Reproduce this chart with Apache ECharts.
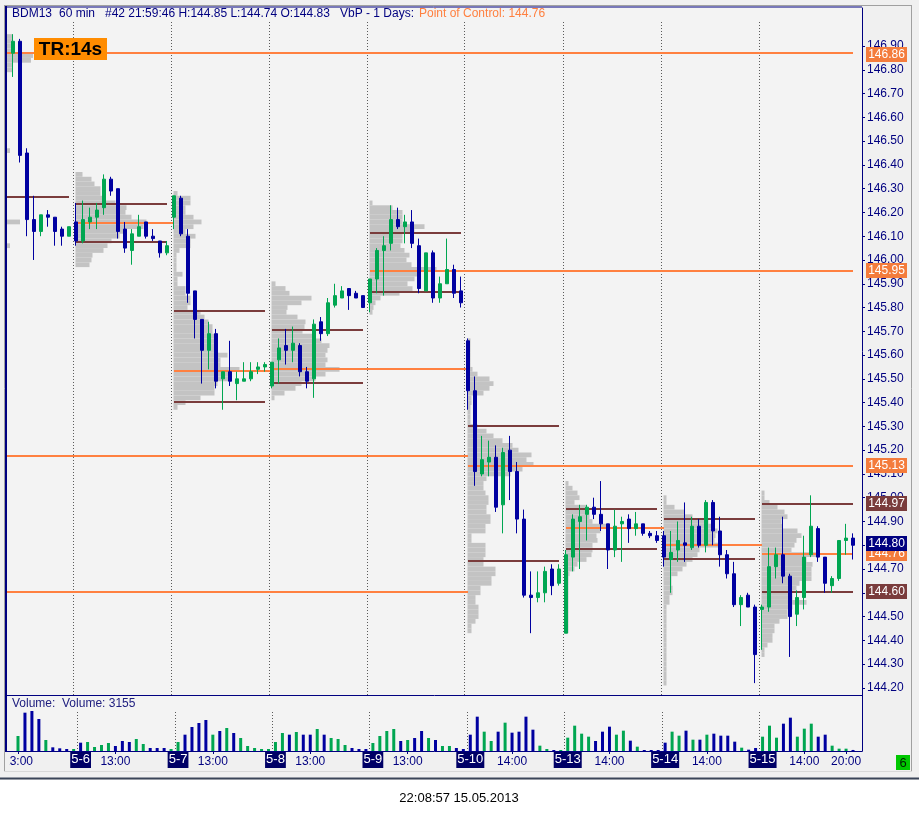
<!DOCTYPE html>
<html><head><meta charset="utf-8">
<script src="https://cdn.jsdelivr.net/npm/echarts@6/dist/echarts.min.js"></script>
<style>html,body{margin:0;padding:0;background:#fff;}#c{width:919px;height:814px;}</style>
</head><body><div id="c"></div>
<script>
// ---------- DATA ----------
const dayNames = ['5-3','5-6','5-7','5-8','5-9','5-10','5-13','5-14','5-15'];
const dayFirstHour = [13,8,8,8,8,8,8,8,8];
const dayLastHour = 21;
const dayTimeLabels = [['13:00'],['13:00'],['13:00'],['13:00'],['13:00'],['14:00'],['14:00'],['14:00'],['14:00','20:00']];

// candles per day: [open, high, low, close]
const d0503 = [[146.87,146.95,146.77,146.92],[146.92,146.93,146.41,146.44],[146.45,146.47,146.10,146.17],[146.17,146.27,146.00,146.12],[146.12,146.19,146.10,146.19],[146.19,146.21,146.14,146.18],[146.18,146.18,146.06,146.12],[146.13,146.14,146.06,146.10],[146.10,146.14,146.10,146.14]];
const d0506 = [[146.16,146.24,146.06,146.08],[146.08,146.25,146.07,146.17],[146.16,146.22,146.13,146.18],[146.18,146.24,146.13,146.21],[146.22,146.36,146.19,146.34],[146.34,146.35,146.27,146.29],[146.30,146.30,146.09,146.12],[146.13,146.16,146.03,146.05],[146.04,146.13,145.98,146.11],[146.10,146.19,146.10,146.14],[146.16,146.16,146.09,146.10],[146.10,146.13,146.08,146.09],[146.08,146.08,146.01,146.03],[146.03,146.08,146.02,146.06]];
const d0507 = [[146.18,146.27,146.13,146.27],[146.26,146.27,146.10,146.11],[146.10,146.13,145.82,145.86],[145.87,145.87,145.67,145.75],[145.75,145.75,145.48,145.62],[145.62,145.74,145.54,145.69],[145.69,145.71,145.46,145.49],[145.50,145.53,145.37,145.53],[145.53,145.66,145.47,145.49],[145.48,145.53,145.41,145.50],[145.49,145.57,145.49,145.50],[145.50,145.57,145.49,145.53],[145.54,145.57,145.52,145.55],[145.55,145.57,145.53,145.56]];
const d0508 = [[145.47,145.57,145.46,145.57],[145.58,145.67,145.48,145.63],[145.64,145.71,145.56,145.62],[145.62,145.72,145.57,145.65],[145.64,145.65,145.51,145.53],[145.53,145.55,145.46,145.49],[145.50,145.75,145.42,145.73],[145.74,145.76,145.66,145.69],[145.69,145.84,145.68,145.82],[145.81,145.90,145.80,145.85],[145.84,145.89,145.84,145.87],[145.88,145.88,145.79,145.85],[145.86,145.87,145.84,145.84],[145.85,145.85,145.80,145.80]];
const d0509 = [[145.82,145.92,145.78,145.92],[145.92,146.05,145.86,146.04],[146.04,146.10,145.85,146.06],[146.07,146.23,146.04,146.17],[146.17,146.22,146.13,146.14],[146.14,146.19,146.07,146.16],[146.16,146.21,146.05,146.07],[146.06,146.09,145.86,145.88],[145.87,146.03,145.87,146.03],[146.03,146.04,145.82,145.84],[145.84,145.93,145.82,145.90],[145.90,146.09,145.90,145.96],[145.96,145.98,145.84,145.86],[145.87,145.93,145.80,145.82]];
const d0510 = [[145.66,145.67,145.37,145.45],[145.45,145.51,145.05,145.11],[145.10,145.26,145.09,145.16],[145.15,145.24,145.09,145.17],[145.17,145.22,144.94,144.96],[144.97,145.21,144.85,145.19],[145.20,145.26,144.99,145.11],[145.11,145.15,144.85,144.91],[144.91,144.95,144.58,144.59],[144.59,144.69,144.43,144.58],[144.58,144.69,144.56,144.60],[144.60,144.71,144.56,144.69],[144.70,144.72,144.59,144.63],[144.64,144.72,144.63,144.70]];
const d0513 = [[144.43,144.78,144.43,144.76],[144.75,144.93,144.69,144.91],[144.90,144.97,144.70,144.92],[144.93,144.97,144.82,144.96],[144.96,145.00,144.91,144.93],[144.93,145.07,144.86,144.89],[144.89,144.89,144.70,144.78],[144.78,144.95,144.75,144.88],[144.89,144.92,144.73,144.90],[144.91,144.93,144.81,144.87],[144.87,144.94,144.84,144.89],[144.89,144.89,144.84,144.85],[144.85,144.86,144.83,144.84],[144.84,144.86,144.81,144.82]];
const d0514 = [[144.84,144.86,144.71,144.75],[144.74,144.86,144.60,144.77],[144.78,144.90,144.73,144.82],[144.81,144.98,144.73,144.80],[144.79,144.92,144.78,144.88],[144.88,144.91,144.79,144.80],[144.80,144.99,144.77,144.98],[144.98,144.99,144.80,144.86],[144.86,144.92,144.71,144.76],[144.76,144.78,144.66,144.68],[144.68,144.73,144.54,144.55],[144.55,144.59,144.46,144.58],[144.59,144.60,144.54,144.54],[144.54,144.55,144.22,144.34]];
const d0515 = [[144.53,144.55,144.36,144.54],[144.54,144.79,144.52,144.71],[144.71,144.79,144.66,144.76],[144.76,144.92,144.64,144.67],[144.67,144.68,144.33,144.50],[144.51,144.61,144.46,144.58],[144.58,144.84,144.53,144.75],[144.76,145.01,144.75,144.88],[144.87,144.88,144.73,144.75],[144.75,144.75,144.60,144.64],[144.63,144.67,144.60,144.66],[144.66,144.82,144.65,144.82],[144.82,144.89,144.76,144.83],[144.83,144.85,144.74,144.80]];

// volume per day
const v0503 = [45000,115000,120000,96000,33000,11000,8000,6000,6000];
const v0506 = [25000,27000,12000,18000,24000,15000,30000,27000,36000,21000,9000,9000,9000,6000];
const v0507 = [27000,49000,72000,84000,93000,49000,60000,69000,54000,39000,15000,9000,6000,6000];
const v0508 = [27000,54000,49000,57000,49000,49000,66000,49000,39000,36000,18000,9000,6000,6000];
const v0509 = [24000,45000,60000,66000,30000,33000,39000,60000,39000,33000,15000,15000,9000,6000];
const v0510 = [49000,103000,58000,30000,58000,85000,55000,58000,103000,64000,16000,6000,3000,3000];
const v0513 = [40000,76000,52000,43000,30000,58000,73000,49000,61000,31000,13000,3000,3000,3000];
const v0514 = [25000,58000,46000,61000,34000,34000,49000,52000,46000,46000,28000,10000,4000,9000];
const v0515 = [43000,76000,40000,82000,100000,43000,67000,82000,43000,49000,16000,7000,7000,3155];

// volume-at-price profiles: top price of each day, then one value per 0.02 step downwards
const profStep = 0.02;
const profTop = [146.94,146.36,146.28,145.90,146.24,145.66,145.06,145.00,145.02];
const p0503 = [5,5,6,6,26,24,5,5,0,0,0,0,0,0,0,0,0,0,0,0,0,0,0,0,3,0,0,0,0,0,0,0,0,0,0,0,0,0,0,13,0,0,0,0,3];
const p0506 = [7,16,19,25,25,27,40,51,50,56,71,68,50,44,36,32,28,17,16,14];
const p0507 = [4,17,17,12,12,20,28,20,12,22,17,17,6,3,3,3,3,9,4,4,12,12,17,17,14,27,31,35,39,39,41,41,44,44,54,47,47,66,57,57,44,41,41,27,12,4];
const p0508 = [4,14,18,40,30,16,15,26,34,33,31,44,50,58,56,54,56,54,68,54,44,30,24,13,3];
const p0509 = [3,23,33,33,33,55,45,33,33,31,35,40,37,42,67,50,45,38,43,30,11,6,4,3];
const p0510 = [3,3,3,3,3,3,5,10,22,26,22,16,4,4,3,3,3,3,10,19,26,35,45,51,64,59,66,55,43,19,16,16,18,21,21,19,19,23,23,18,18,4,4,18,18,18,16,16,28,28,24,24,13,13,8,8,11,11,11,8,4,4];
const p0513 = [3,7,12,14,9,21,24,24,27,41,35,31,32,27,27,26,21,12,9,4,3,3,3,3,3,3,3,3,3,3,3,3];
const p0514 = [3,3,11,21,29,45,51,54,52,51,58,36,34,29,23,19,14,8,8,9,9,6,6,3,3,3,3,3,3,3,3,3,3,3,3,3,3,3,3,3];
const p0515 = [3,3,8,16,23,26,20,21,36,40,35,33,30,55,45,51,50,50,50,38,35,31,31,45,31,26,26,18,13,13,11,11,6,3,3];

// level lines: [price, fromBar, toBar] (-1 = from left edge)
const pocLevels = [[146.869,-1,120],[145.175,-1,65],[144.602,-1,65],[146.157,9,23],[145.534,23,37],[145.54,37,65],[145.955,51,120],[145.133,65,120],[144.873,79,93],[144.80,93,107],[144.764,107,120]];
const vaLevels = [[146.267,-1,8],[146.237,9,22],[146.077,9,22],[145.787,23,36],[145.404,23,36],[145.705,37,50],[145.484,37,50],[146.115,51,64],[145.867,51,64],[145.302,65,78],[144.734,65,78],[144.953,79,92],[144.785,79,92],[144.911,93,106],[144.743,93,106],[144.973,107,120],[144.605,107,120]];

// right-hand price tags
const tagPrices = [146.86,145.95,145.13,144.97,144.76,144.60,144.80];
const tagKinds  = [0,0,0,1,0,1,2]; // 0 POC, 1 value area, 2 last price

const priceTicks = [144.2,144.3,144.4,144.5,144.6,144.7,144.8,144.9,145.0,145.1,145.2,145.3,145.4,145.5,145.6,145.7,145.8,145.9,146.0,146.1,146.2,146.3,146.4,146.5,146.6,146.7,146.8,146.9];

// ---------- BUILD ----------
const GREEN='#00a651', NAVY='#0000a0', ORANGE='#ff8040', BROWN='#7a3c3c', AXIS='#000080';
const FONT='"Liberation Sans", Arial, sans-serif';
const dayBars = [d0503,d0506,d0507,d0508,d0509,d0510,d0513,d0514,d0515];
const dayVols = [v0503,v0506,v0507,v0508,v0509,v0510,v0513,v0514,v0515];
const dayProfs = [p0503,p0506,p0507,p0508,p0509,p0510,p0513,p0514,p0515];

const cats=[], candles=[], vols=[], dayStart=[], labelMap={};
dayNames.forEach((d,di)=>{
  dayStart.push(cats.length);
  for(let h=dayFirstHour[di]; h<=dayLastHour; h++){
    const idx=cats.length;
    const hs=h+':00';
    cats.push(d+' '+hs);
    if(h===dayFirstHour[di] && di>0) labelMap[idx]='{d|'+d+'}';
    else if(dayTimeLabels[di].indexOf(hs)>=0) labelMap[idx]='{t|'+hs+'}';
  }
  dayBars[di].forEach((b,k)=>{
    candles.push([b[0],b[3],b[2],b[1]]);
    const up = b[3]>=b[0];
    vols.push({value: dayVols[di][k], itemStyle:{color: up?GREEN:NAVY}});
  });
});
const profRows=[];
dayProfs.forEach((arr,di)=>{
  arr.forEach((w,k)=>{ if(w>0) profRows.push([dayStart[di], +(profTop[di]-k*profStep).toFixed(2), w]); });
});
const levelRows=[];
pocLevels.forEach(l=>levelRows.push([l[1],l[0],l[2],0]));
vaLevels.forEach(l=>levelRows.push([l[1],l[0],l[2],1]));
const sepRows = dayStart.slice(1).map(i=>[i,145]);
const sepRowsVol = dayStart.slice(1).map(i=>[i,1000]);
const tagRows = tagPrices.map((p,i)=>[cats.length-1,p,tagKinds[i]]);

function sepRender(topOff){
  return function(params, api){
    const band = api.size([1,0])[0];
    const x = Math.round(api.coord([api.value(0), api.value(1)])[0]-band/2)+0.5;
    const cs = params.coordSys;
    return {type:'line', shape:{x1:x,y1:cs.y+topOff,x2:x,y2:cs.y+cs.height}, style:{stroke:'#5a5a5a',lineWidth:1,lineDash:[1,2]}};
  };
}

const chart = echarts.init(document.getElementById('c'), null, {renderer:'canvas', width:919, height:814});
const option = {
  animation:false,
  textStyle:{fontFamily:FONT},
  grid:[{left:9.5,width:847,top:8,height:687},{left:9.5,width:847,top:695,height:56}],
  xAxis:[
    {type:'category',gridIndex:0,data:cats,show:false,boundaryGap:true},
    {type:'category',gridIndex:1,data:cats,boundaryGap:true,
      axisLine:{show:false},
      axisTick:{show:true,alignWithLabel:true,length:3,interval:(i)=>labelMap[i]!==undefined,lineStyle:{color:AXIS}},
      axisLabel:{interval:(i)=>labelMap[i]!==undefined,margin:2,formatter:(v,i)=>labelMap[i]||'',
        rich:{d:{backgroundColor:'#000066',color:'#ffffff',fontSize:13,lineHeight:13,padding:[2,1,2,1],fontFamily:FONT},
              t:{color:AXIS,fontSize:12,lineHeight:17,fontFamily:FONT}}},
      splitLine:{show:false}}
  ],
  yAxis:[
    {type:'value',gridIndex:0,position:'right',offset:5.5,min:144.17,max:147.06,splitLine:{show:false},
      axisLine:{show:true,lineStyle:{color:AXIS}},
      axisTick:{show:true,length:3,customValues:priceTicks,lineStyle:{color:AXIS}},
      axisLabel:{customValues:priceTicks,formatter:v=>v.toFixed(2),color:AXIS,margin:5,fontSize:12,fontFamily:FONT}},
    {type:'value',gridIndex:1,position:'right',offset:5.5,min:0,max:168000,show:true,
      axisLine:{show:true,lineStyle:{color:AXIS}},axisTick:{show:false},axisLabel:{show:false},splitLine:{show:false}}
  ],
  series:[
    {type:'custom',name:'profile',xAxisIndex:0,yAxisIndex:0,z:1,silent:true,data:profRows,encode:{x:0,y:1},
      renderItem:(params,api)=>{
        const s=api.value(0), p=api.value(1), w=api.value(2);
        const c=api.coord([s,p]);
        const band=api.size([1,0])[0];
        const rowH=api.size([0,profStep])[1];
        const x0 = s===0 ? params.coordSys.x-2.5 : c[0]-0.5;
        return {type:'rect',shape:{x:x0,y:c[1]-rowH/2,width:w*band/7,height:rowH},style:{fill:'#c3c3c3'}};
      }},
    {type:'custom',name:'sep',xAxisIndex:0,yAxisIndex:0,z:2,silent:true,data:sepRows,encode:{x:0,y:1},renderItem:sepRender(14)},
    {type:'custom',name:'sepv',xAxisIndex:1,yAxisIndex:1,z:2,silent:true,data:sepRowsVol,encode:{x:0,y:1},renderItem:sepRender(17)},
    {type:'custom',name:'levels',xAxisIndex:0,yAxisIndex:0,z:3,silent:true,data:levelRows,encode:{x:0,y:1},
      renderItem:(params,api)=>{
        const from=api.value(0), p=api.value(1), to=api.value(2), k=api.value(3);
        const c2=api.coord([to,p]);
        const x1 = from<0 ? params.coordSys.x-2.5 : api.coord([from,p])[0];
        const y = Math.round(c2[1]);
        return {type:'line',shape:{x1:x1,y1:y,x2:c2[0],y2:y},style:{stroke:k===0?ORANGE:BROWN,lineWidth:2}};
      }},
    {type:'candlestick',name:'BDM13',xAxisIndex:0,yAxisIndex:0,z:5,silent:true,data:candles,barWidth:4,
      itemStyle:{color:GREEN,color0:NAVY,borderColor:GREEN,borderColor0:NAVY,borderWidth:1}},
    {type:'custom',name:'tags',xAxisIndex:0,yAxisIndex:0,z:10,silent:true,clip:false,data:tagRows,encode:{x:0,y:1},
      renderItem:(params,api)=>{
        const p=api.value(1), k=api.value(2);
        const y=Math.round(api.coord([api.value(0),p])[1])-1.5;
        const x=params.coordSys.x+params.coordSys.width+9.5;
        const fill = k===0?'#f47c3c':(k===1?'#7a3c3c':'#000080');
        return {type:'group',children:[
          {type:'rect',shape:{x:x,y:y-7.5,width:41,height:15},style:{fill:fill}},
          {type:'text',style:{x:x+20.5,y:y+0.5,text:p.toFixed(2),fill:'#ffffff',font:'12px '+FONT,align:'center',verticalAlign:'middle'}}
        ]};
      }},
    {type:'bar',name:'Volume',xAxisIndex:1,yAxisIndex:1,data:vols,barWidth:3,silent:true,z:5}
  ],
  graphic:[
    {type:'rect',z:-10,silent:true,shape:{x:0,y:0,width:919,height:780},style:{fill:'#f0f0f0'}},
    {type:'rect',z:-9,silent:true,shape:{x:7,y:7,width:855,height:744},style:{fill:'#f3f3f3'}},
    {type:'rect',z:-10,silent:true,shape:{x:0,y:780,width:919,height:34},style:{fill:'#ffffff'}},
    {type:'rect',z:50,silent:true,shape:{x:0,y:752,width:9,height:19},style:{fill:'#f0f0f0'}},
    {type:'line',z:60,silent:true,shape:{x1:4.5,y1:5,x2:4.5,y2:772},style:{stroke:'#a0a0a0',lineWidth:1}},
    {type:'line',z:60,silent:true,shape:{x1:6,y1:6,x2:6,y2:752},style:{stroke:AXIS,lineWidth:2}},
    {type:'line',z:60,silent:true,shape:{x1:4,y1:5.5,x2:912,y2:5.5},style:{stroke:'#a0a0a0',lineWidth:1}},
    {type:'line',z:60,silent:true,shape:{x1:5,y1:7,x2:862,y2:7},style:{stroke:AXIS,lineWidth:1}},
    {type:'line',z:60,silent:true,shape:{x1:911.5,y1:5,x2:911.5,y2:772},style:{stroke:'#a0a0a0',lineWidth:1}},
    {type:'line',z:60,silent:true,shape:{x1:7,y1:695.5,x2:862,y2:695.5},style:{stroke:AXIS,lineWidth:1}},
    {type:'line',z:60,silent:true,shape:{x1:7,y1:751.5,x2:862.5,y2:751.5},style:{stroke:AXIS,lineWidth:1}},
    {type:'line',z:60,silent:true,shape:{x1:4,y1:771.5,x2:912,y2:771.5},style:{stroke:'#d8d8d8',lineWidth:1}},
    {type:'line',z:60,silent:true,shape:{x1:0,y1:778.5,x2:919,y2:778.5},style:{stroke:'#3a4458',lineWidth:2}},
    {type:'text',z:70,silent:true,style:{x:12,y:14,text:'BDM13',fill:AXIS,font:'12px '+FONT,verticalAlign:'middle'}},
    {type:'text',z:70,silent:true,style:{x:59,y:14,text:'60 min',fill:AXIS,font:'12px '+FONT,verticalAlign:'middle'}},
    {type:'text',z:70,silent:true,style:{x:105,y:14,text:'#42 21:59:46 H:144.85 L:144.74 O:144.83',fill:AXIS,font:'12px '+FONT,verticalAlign:'middle'}},
    {type:'text',z:70,silent:true,style:{x:340,y:14,text:'VbP - 1 Days:',fill:AXIS,font:'12px '+FONT,verticalAlign:'middle'}},
    {type:'text',z:70,silent:true,style:{x:419,y:14,text:'Point of Control: 144.76',fill:ORANGE,font:'12px '+FONT,verticalAlign:'middle'}},
    {type:'group',z:70,silent:true,children:[
      {type:'rect',z:70,shape:{x:34,y:38,width:73,height:22},style:{fill:'#ff8c00'}},
      {type:'text',z:71,style:{x:70.5,y:49.5,text:'TR:14s',fill:'#000000',font:'bold 19px '+FONT,align:'center',verticalAlign:'middle'}}
    ]},
    {type:'text',z:70,silent:true,style:{x:12,y:704,text:'Volume:  Volume: 3155',fill:'#202080',font:'12px '+FONT,verticalAlign:'middle'}},
    {type:'rect',z:70,silent:true,shape:{x:896,y:755,width:14,height:15},style:{fill:'#00c800'}},
    {type:'text',z:71,silent:true,style:{x:903,y:763,text:'6',fill:'#002000',font:'13px '+FONT,align:'center',verticalAlign:'middle'}},
    {type:'text',z:70,silent:true,style:{x:459,y:798,text:'22:08:57 15.05.2013',fill:'#000000',font:'13px '+FONT,align:'center',verticalAlign:'middle'}}
  ]
};
chart.setOption(option);
</script>
</body></html>
